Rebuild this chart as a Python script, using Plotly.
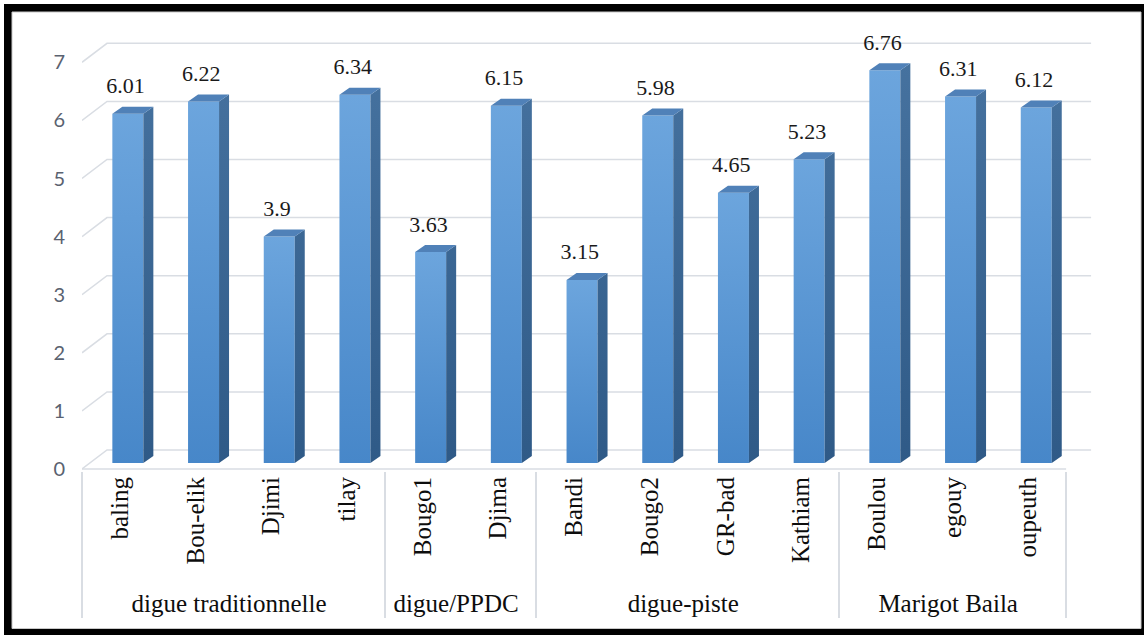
import plotly.graph_objects as go

# ---------------- data ----------------
groups = ["digue traditionnelle"] * 4 + ["digue/PPDC"] * 2 + ["digue-piste"] * 4 + ["Marigot Baila"] * 3
sites = ["baling", "Bou-elik", "Djimi", "tilay", "Bougo1", "Djima", "Bandi",
         "Bougo2", "GR-bad", "Kathiam", "Boulou", "egouy", "oupeuth"]
values = [6.01, 6.22, 3.9, 6.34, 3.63, 6.15, 3.15, 5.98, 4.65, 5.23, 6.76, 6.31, 6.12]
y_ticks = [0, 1, 2, 3, 4, 5, 6, 7]

# ---------------- geometry (pixel based, converted to axis units) ----------------
W, H = 1144, 635
PL, PR, PT, PB = 82, 1095, 35, 471      # plot area in pixels
UX, UY = 75.7, 58.1                      # px per category / per unit
Y0PX = 469                               # pixel row of value 0 on front plane
n = len(values)

x_range = [-0.5, -0.5 + (PR - PL) / UX]
y_range = [(Y0PX - PB) / UY, (Y0PX - PT) / UY]

FACE_DX, FACE_DY = 8 / UX, 6 / UY        # front face of bars vs front plane
BW = 31 / UX                             # bar width
DEP_X, DEP_Y = 10 / UX, 7 / UY           # bar depth
BACK_DX, BACK_DY = 25 / UX, 19 / UY      # back wall offset

GRID = "#d9dde3"
SIDE_BOT, SIDE_TOP = "#2f5a87", "#46729f"
TOP = "#5081b8"
SERIF = "Liberation Serif, Times New Roman, serif"

fig = go.Figure()

# gridlines (back wall + left diagonal)
gx, gy = [], []
for k in y_ticks:
    gx += [-0.5, -0.5 + BACK_DX, n - 0.5 + BACK_DX, None]
    gy += [k, k + BACK_DY, k + BACK_DY, None]
fig.add_trace(go.Scatter(x=gx, y=gy, mode="lines", line=dict(color=GRID, width=1.5),
                         hoverinfo="skip", showlegend=False, zorder=0))
# front floor edge
fig.add_trace(go.Scatter(x=[-0.5, n - 0.5], y=[0, 0], mode="lines",
                         line=dict(color=GRID, width=1.5), hoverinfo="skip",
                         showlegend=False, zorder=0))

# front faces (one filled shape per bar, vertical gradient)
for i, v in enumerate(values):
    xl = i + FACE_DX - BW / 2
    xr = i + FACE_DX + BW / 2
    b = FACE_DY
    t = FACE_DY + v
    fig.add_trace(go.Scatter(
        x=[xl, xr, xr, xl, xl], y=[b, b, t, t, b], fill="toself", mode="lines",
        line=dict(width=0, color="#5a9ad8"),
        fillgradient=dict(type="vertical", colorscale=[[0, "#4787c9"], [1, "#6ca5dd"]]),
        hoverinfo="skip", showlegend=False, zorder=1, name=sites[i]))

# side & top faces
sx, sy, tx, ty = [], [], [], []
for i, v in enumerate(values):
    xl = i + FACE_DX - BW / 2
    xr = i + FACE_DX + BW / 2
    b = FACE_DY
    t = FACE_DY + v
    sx += [xr, xr + DEP_X, xr + DEP_X, xr, xr, None]
    sy += [b, b + DEP_Y, t + DEP_Y, t, b, None]
    tx += [xl, xl + DEP_X, xr + DEP_X, xr, xl, None]
    ty += [t, t + DEP_Y, t + DEP_Y, t, t, None]
fig.add_trace(go.Scatter(x=sx, y=sy, fill="toself", mode="lines",
                         line=dict(width=0, color=SIDE_TOP),
                         fillgradient=dict(type="vertical",
                                           colorscale=[[0, SIDE_BOT], [1, SIDE_TOP]]),
                         hoverinfo="skip", showlegend=False, zorder=2))
fig.add_trace(go.Scatter(x=tx, y=ty, fill="toself", fillcolor=TOP, mode="lines",
                         line=dict(width=0, color=TOP), hoverinfo="skip",
                         showlegend=False, zorder=2))

# data labels
fig.add_trace(go.Scatter(
    x=[i + FACE_DX - 0.03 for i in range(n)],
    y=[v + FACE_DY + DEP_Y + 8 / UY for v in values],
    mode="text", text=[f"{v:g}" for v in values], textposition="top center",
    textfont=dict(family=SERIF, size=22, color="#1a1a1a"),
    hoverinfo="skip", showlegend=False, zorder=3, cliponaxis=False))

# invisible trace carrying the two-level category axis
fig.add_trace(go.Scatter(x=[groups, sites], y=values, xaxis="x2", mode="markers",
                         marker=dict(opacity=0), hoverinfo="skip", showlegend=False))

# ---------------- frame ----------------
def px_x(p):
    return (p - PL) / (PR - PL)


def px_y(p):
    return (PB - p) / (PB - PT)


shapes = [
    dict(type="rect", xref="paper", yref="paper", x0=px_x(4), x1=px_x(1150),
         y0=px_y(4), y1=px_y(640), fillcolor="black", line=dict(width=0), layer="below"),
    dict(type="rect", xref="paper", yref="paper", x0=px_x(12), x1=px_x(1141),
         y0=px_y(12), y1=px_y(628.5), fillcolor="white",
         line=dict(width=1, color="#c8c8c8"), layer="below"),
]

fig.update_layout(
    width=W, height=H,
    margin=dict(l=PL, r=W - PR, t=PT, b=H - PB, pad=0),
    paper_bgcolor="white", plot_bgcolor="rgba(0,0,0,0)",
    shapes=shapes,
    xaxis=dict(range=x_range, visible=False, fixedrange=True),
    xaxis2=dict(type="multicategory", overlaying="x", anchor="y", side="bottom",
                range=x_range, tickangle=-90, showgrid=False, zeroline=False,
                showline=False, ticks="", showdividers=True, dividercolor=GRID,
                dividerwidth=1.5, tickfont=dict(family=SERIF, size=25, color="#0d0d0d")),
    yaxis=dict(range=y_range, tickvals=y_ticks, showgrid=False, zeroline=False,
               showline=False, ticks="", ticklabelstandoff=16,
               tickfont=dict(family="Lato", size=20, color="#5a6270")),
)

fig.write_html("out.html")
